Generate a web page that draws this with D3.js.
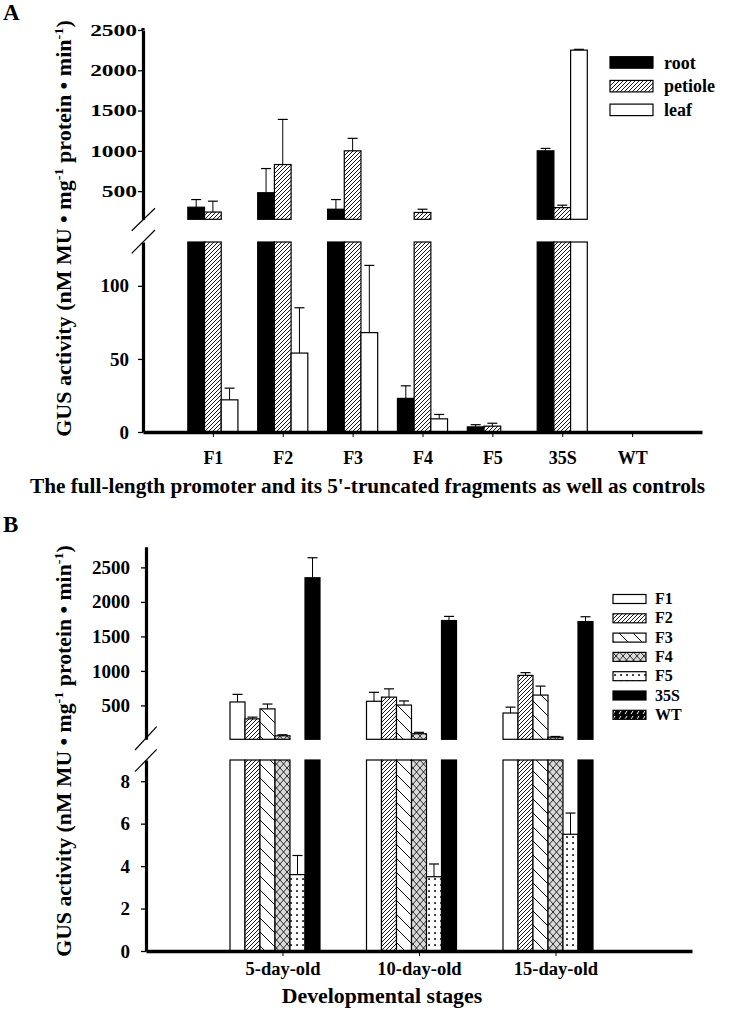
<!DOCTYPE html>
<html><head><meta charset="utf-8">
<script src="https://cdn.jsdelivr.net/npm/d3@7"></script>
<style>
body{margin:0;background:#fff}
svg{display:block}
text{font-family:"Liberation Serif","Times New Roman",serif;font-weight:bold;fill:#000}
</style>
</head><body>
<svg id="chart" width="735" height="1012"></svg>
<script>
// ---------------- DATA (panel A) ----------------
const categoriesA = ["F1","F2","F3","F4","F5","35S","WT"];
const seriesA = ["root","petiole","leaf"];
const rootValues    = [300, 480, 275, 23, 3.5, 1000, 0];
const rootErrors    = [95, 300, 120, 8.6, 1.5, 30, 0];
const petioleValues = [240, 830, 1000, 235, 4, 295, 0];
const petioleErrors = [135, 560, 155, 40, 2, 30, 0];
const leafValues    = [22, 54, 68, 9, 0, 2250, 0];
const leafErrors    = [8, 31, 46, 3, 0, 10, 0];
const ticksAUpper = [500, 1000, 1500, 2000, 2500];
const ticksALower = [0, 50, 100];

// ---------------- DATA (panel B) ----------------
const stagesB = ["5-day-old","10-day-old","15-day-old"];
const seriesB = ["F1","F2","F3","F4","F5","35S","WT"];
const f1Values  = [550, 560, 390],   f1Errors  = [110, 130, 85];
const f2Values  = [305, 620, 935],   f2Errors  = [25, 120, 40];
const f3Values  = [450, 505, 650],   f3Errors  = [70, 60, 130];
const f4Values  = [60, 90, 40],      f4Errors  = [15, 20, 10];
const f5Values  = [3.6, 3.5, 5.5],   f5Errors  = [0.9, 0.6, 1.0];
const s35Values = [2350, 1730, 1715], s35Errors = [290, 60, 70];
const wtValues  = [0, 0, 0],         wtErrors  = [0, 0, 0];
const ticksBUpper = [500, 1000, 1500, 2000, 2500];
const ticksBLower = [0, 2, 4, 6, 8];

const yTitleText = ["GUS activity (nM MU • mg", "-1", " protein • min", "-1", ")"];

// ---------------- DRAWING ----------------
const svg = d3.select("#chart");
svg.append("rect").attr("width", 735).attr("height", 1012).attr("fill", "#fff");
const defs = svg.append("defs");

function pat(id, w, h, bg, draw) {
  const p = defs.append("pattern").attr("id", id).attr("patternUnits", "userSpaceOnUse")
    .attr("width", w).attr("height", h);
  p.append("rect").attr("width", w).attr("height", h).attr("fill", bg);
  draw(p);
}
pat("fwd", 4, 4, "#fff", p => p.append("path")
  .attr("d", "M-1,1 L1,-1 M0,4 L4,0 M3,5 L5,3").attr("stroke", "#000").attr("stroke-width", 0.9));
pat("back", 14, 14, "#fff", p => p.append("path")
  .attr("d", "M0,0 L14,14 M-7,7 L7,21 M7,-7 L21,7").attr("stroke", "#000").attr("stroke-width", 1));
pat("cross", 7, 8, "#d9d9d9", p => p.append("path")
  .attr("d", "M0,0 L7,8 M7,0 L0,8").attr("stroke", "#000").attr("stroke-width", 0.8));
pat("dots", 6, 6, "#fff", p => p.append("rect")
  .attr("x", 2.2).attr("y", 2.2).attr("width", 1.7).attr("height", 1.7).attr("fill", "#000"));
pat("wt", 6, 5, "#000", p => p.append("path")
  .attr("d", "M1,4 L3,1").attr("stroke", "#fff").attr("stroke-width", 1));

const fillA = {root: "#000", petiole: "url(#fwd)", leaf: "#fff"};
const fillB = {F1: "#fff", F2: "url(#fwd)", F3: "url(#back)", F4: "url(#cross)",
               F5: "url(#dots)", "35S": "#000", WT: "url(#wt)"};

function drawPanel(cfg) {
  const g = svg.append("g");
  const x = d3.scaleLinear().domain([0, cfg.cats.length + 1]).range([cfg.x0, cfg.x1]);
  const yU = d3.scaleLinear().domain(cfg.upperDomain).range(cfg.upperRange);
  const yL = d3.scaleLinear().domain(cfg.lowerDomain).range(cfg.lowerRange);
  const nS = cfg.series.length;
  const bw = cfg.barW;
  const uMin = cfg.upperDomain[0], lMax = cfg.lowerDomain[1];

  cfg.series.forEach((s, si) => {
    const vals = cfg.values[si], errs = cfg.errors[si];
    cfg.cats.forEach((c, ci) => {
      const v = vals[ci], e = errs[ci];
      const bx = x(ci + 1) - nS * bw / 2 + si * bw;
      const cx = bx + bw / 2;
      if (v > 0) {
        const top = yL(Math.min(v, lMax));
        g.append("rect").attr("x", bx).attr("y", top).attr("width", bw)
          .attr("height", yL(0) - top).attr("fill", cfg.fill[s])
          .attr("stroke", "#000").attr("stroke-width", 1.2);
      }
      if (v > uMin) {
        g.append("rect").attr("x", bx).attr("y", yU(v)).attr("width", bw)
          .attr("height", yU(uMin) - yU(v)).attr("fill", cfg.fill[s])
          .attr("stroke", "#000").attr("stroke-width", 1.2);
      }
      if (e > 0) {
        const sc = v > uMin ? yU : yL;
        const y1 = sc(v), y2 = sc(v + e);
        g.append("line").attr("x1", cx).attr("x2", cx).attr("y1", y1).attr("y2", y2)
          .attr("stroke", "#000").attr("stroke-width", 1);
        g.append("line").attr("x1", cx - 5).attr("x2", cx + 5).attr("y1", y2).attr("y2", y2)
          .attr("stroke", "#000").attr("stroke-width", 1.2);
      }
    });
  });

  // Y axes (upper and lower segments)
  const fmt = d3.format("d");
  const axU = g.append("g").attr("transform", `translate(${cfg.x0},0)`)
    .call(d3.axisLeft(yU).tickValues(cfg.ticksU).tickFormat(fmt).tickSize(5).tickSizeOuter(0).tickPadding(cfg.padU));
  const axL = g.append("g").attr("transform", `translate(${cfg.x0},0)`)
    .call(d3.axisLeft(yL).tickValues(cfg.ticksL).tickFormat(fmt).tickSize(5).tickSizeOuter(0).tickPadding(cfg.padL));
  [axU, axL].forEach(a => {
    a.select(".domain").attr("stroke-width", 3.2);
    a.selectAll(".tick line").attr("stroke-width", 1.3);
    a.selectAll("text").attr("font-family", null).attr("font-size", null)
      .style("font-size", cfg.yFont + "px");
  });
  if (cfg.stretchU) {
    axU.selectAll("text").style("font-size", cfg.yFontU + "px")
      .attr("x", -(5 + cfg.padU) / cfg.stretchU)
      .attr("transform", `scale(${cfg.stretchU},1)`);
  }
  // upper axis extension to top
  g.append("line").attr("x1", cfg.x0).attr("x2", cfg.x0)
    .attr("y1", cfg.upperRange[1]).attr("y2", cfg.axisTop)
    .attr("stroke", "#000").attr("stroke-width", 3.2);

  // break marks
  cfg.breaks.forEach(b => g.append("line").attr("x1", b[0]).attr("y1", b[1])
    .attr("x2", b[2]).attr("y2", b[3]).attr("stroke", "#000").attr("stroke-width", 1.2));

  // X axis
  const axX = g.append("g").attr("transform", `translate(0,${cfg.lowerRange[0]})`)
    .call(d3.axisBottom(x).tickValues(d3.range(1, cfg.cats.length + 1))
      .tickFormat(i => cfg.cats[i - 1]).tickSize(5).tickSizeOuter(0));
  axX.select(".domain").attr("stroke-width", 3.6);
  axX.selectAll(".tick line").attr("stroke-width", 1);
  axX.selectAll("text").attr("font-family", null).attr("font-size", null)
    .style("font-size", cfg.xFont + "px").attr("y", cfg.xLabelY).attr("dy", 0);

  // X title
  const xt = g.append("text").attr("x", cfg.xTitleX).attr("y", cfg.xTitleY)
    .attr("text-anchor", "middle").style("font-size", cfg.xTitleFont + "px").text(cfg.xTitle);
  if (cfg.xTitleLen) xt.attr("textLength", cfg.xTitleLen).attr("lengthAdjust", "spacingAndGlyphs");

  // Y title
  const t = g.append("text").attr("text-anchor", "middle").style("font-size", "20px");
  yTitleText.forEach((s, i) => {
    const sp = t.append("tspan").text(s);
    if (i % 2 === 1) sp.style("font-size", "13px").attr("dy", -8);
    else if (i > 0) sp.attr("dy", 8);
  });
  const len = t.node().getComputedTextLength();
  const cy = (cfg.yTitleTop + cfg.yTitleBottom) / 2;
  t.attr("transform", `translate(${cfg.yTitleX},${cy}) rotate(-90) scale(${(cfg.yTitleBottom - cfg.yTitleTop) / len},1)`);

  // Panel label
  g.append("text").attr("x", 3).attr("y", cfg.labelY).style("font-size", "23px").text(cfg.label);

  // Legend
  cfg.series.forEach((s, i) => {
    const ly = cfg.legY + i * cfg.legStep;
    g.append("rect").attr("x", cfg.legX).attr("y", ly).attr("width", cfg.legW).attr("height", cfg.legH)
      .attr("fill", cfg.fill[s]).attr("stroke", "#000").attr("stroke-width", 1.2);
    g.append("text").attr("x", cfg.legTextX).attr("y", ly + cfg.legH + 0.5)
      .style("font-size", cfg.legFont + "px").text(s);
  });
}

drawPanel({
  label: "A", labelY: 20,
  cats: categoriesA, series: seriesA,
  values: [rootValues, petioleValues, leafValues],
  errors: [rootErrors, petioleErrors, leafErrors],
  fill: fillA, barW: 16.7,
  x0: 143, x1: 702,
  upperDomain: [150, 2500], upperRange: [219.3, 30], axisTop: 28,
  lowerDomain: [0, 130], lowerRange: [432, 242],
  ticksU: ticksAUpper, ticksL: ticksALower,
  padU: 1, padL: 9, yFont: 19, yFontU: 17, stretchU: 1.38,
  breaks: [[131.7, 230.7, 155, 208.3], [131.7, 253.3, 155, 230]],
  xFont: 18, xLabelY: 31.5,
  xTitle: "The full-length promoter and its 5'-truncated fragments as well as controls",
  xTitleX: 367.5, xTitleY: 493, xTitleFont: 21.5, xTitleLen: 675,
  yTitleX: 71, yTitleTop: 20, yTitleBottom: 437,
  legX: 610, legY: 56.7, legStep: 23.7, legW: 43, legH: 11.5, legTextX: 664, legFont: 18
});

drawPanel({
  label: "B", labelY: 531.5,
  cats: stagesB, series: seriesB,
  values: [f1Values, f2Values, f3Values, f4Values, f5Values, s35Values, wtValues],
  errors: [f1Errors, f2Errors, f3Errors, f4Errors, f5Errors, s35Errors, wtErrors],
  fill: fillB, barW: 15,
  x0: 146, x1: 692,
  upperDomain: [9, 2800], upperRange: [739.3, 546.7], axisTop: 546.7,
  lowerDomain: [0, 9], lowerRange: [951, 760],
  ticksU: ticksBUpper, ticksL: ticksBLower,
  padU: 11, padL: 11, yFont: 19,
  breaks: [[135, 750, 156.7, 726.7], [135, 771.7, 156.7, 749.3]],
  xFont: 18.5, xLabelY: 24,
  xTitle: "Developmental stages",
  xTitleX: 382, xTitleY: 1003, xTitleFont: 21.8,
  yTitleX: 71, yTitleTop: 545, yTitleBottom: 957,
  legX: 613, legY: 594.5, legStep: 19.3, legW: 33, legH: 9, legTextX: 655, legFont: 16
});
</script>
</body></html>
